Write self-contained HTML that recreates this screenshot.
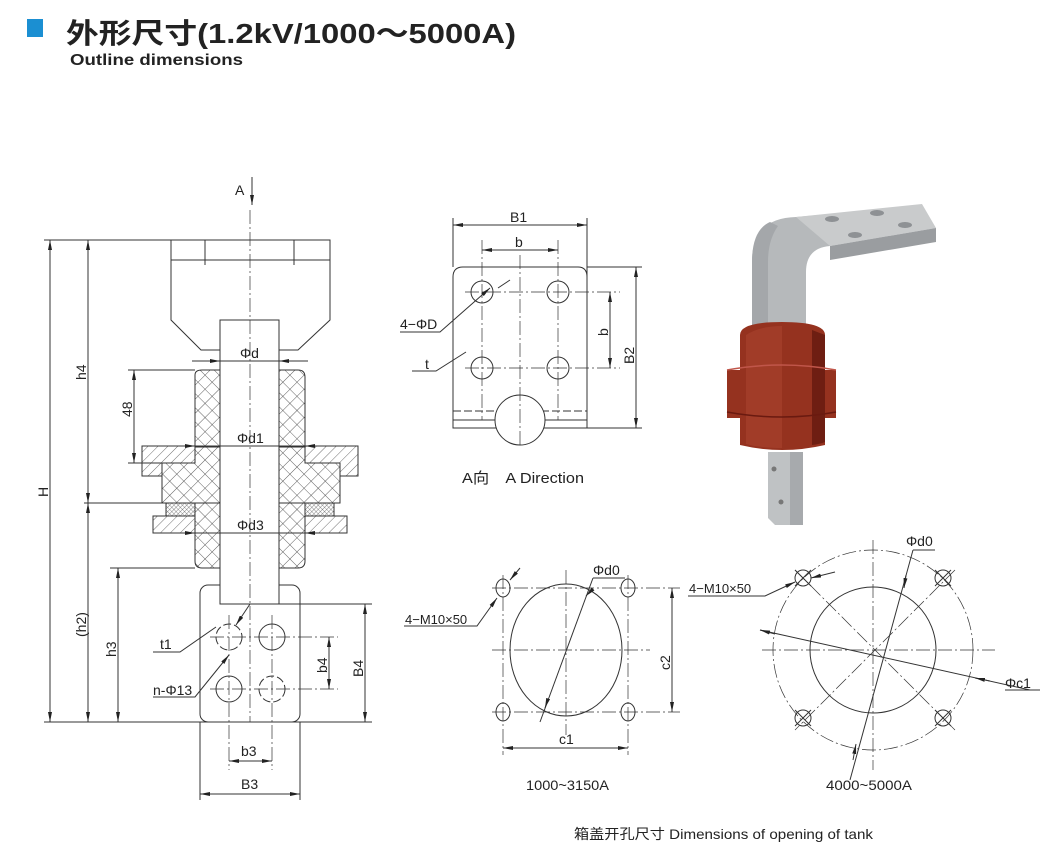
<!DOCTYPE html>
<html><head><meta charset="utf-8"><style>
html,body{margin:0;padding:0;background:#fff;}
svg{display:block;}
text{font-family:"Liberation Sans","Noto Sans CJK SC",sans-serif;fill:#222;}
</style></head><body>
<svg width="1056" height="864" viewBox="0 0 1056 864" xmlns="http://www.w3.org/2000/svg">
<defs>
<pattern id="cross" width="10" height="10" patternUnits="userSpaceOnUse" patternTransform="rotate(45)">
<rect width="10" height="10" fill="#fff"/>
<path d="M0 0H10M0 0V10" stroke="#333" stroke-width="0.8"/>
</pattern>
<pattern id="diag" width="7" height="7" patternUnits="userSpaceOnUse" patternTransform="rotate(45)">
<rect width="7" height="7" fill="#fff"/>
<path d="M0 0V7" stroke="#333" stroke-width="0.7"/>
</pattern>
<pattern id="fine" width="3" height="3" patternUnits="userSpaceOnUse" patternTransform="rotate(45)">
<rect width="3" height="3" fill="#fff"/>
<path d="M0 0H3M0 0V3" stroke="#333" stroke-width="0.6"/>
</pattern>
<marker id="ar" viewBox="0 0 10 4" refX="10" refY="2" markerWidth="10" markerHeight="4" orient="auto-start-reverse" markerUnits="userSpaceOnUse">
<path d="M0 0L10 2L0 4z" fill="#222"/>
</marker>
</defs>

<!-- Title -->
<rect x="27" y="19" width="16" height="18" fill="#1b8fd2"/>
<text x="66" y="43" font-size="28" font-weight="bold" textLength="450" lengthAdjust="spacingAndGlyphs">外形尺寸(1.2kV/1000～5000A)</text>
<text x="70" y="65" font-size="16" font-weight="bold" textLength="173" lengthAdjust="spacingAndGlyphs">Outline dimensions</text>

<g fill="none" stroke="#333" stroke-width="1">
<line x1="252" y1="177" x2="252" y2="205" marker-end="url(#ar)"/>
<path d="M171 240H330V320L298 350H201L171 320Z" fill="#fff"/>
<line x1="171" y1="260" x2="330" y2="260"/>
<line x1="205" y1="240" x2="205" y2="265"/>
<line x1="294" y1="240" x2="294" y2="265"/>
<path d="M195 375Q195 370 202 370H220V447H195Z" fill="url(#cross)"/>
<path d="M279 370H298Q305 370 305 377V447H279Z" fill="url(#cross)"/>
<path d="M142 446H195V463H162V476H142Z" fill="url(#diag)"/>
<path d="M305 446H358V476H338V463H305Z" fill="url(#diag)"/>
<path d="M162 463H195V447H220V503H162Z" fill="url(#cross)"/>
<path d="M279 447H305V463H340V503H279Z" fill="url(#cross)"/>
<rect x="166" y="503" width="29" height="13" fill="url(#fine)"/>
<rect x="305" y="503" width="29" height="13" fill="url(#fine)"/>
<rect x="153" y="516" width="42" height="17" fill="url(#diag)"/>
<rect x="305" y="516" width="42" height="17" fill="url(#diag)"/>
<path d="M195 503H220V568H202Q195 568 195 561Z" fill="url(#cross)"/>
<path d="M279 503H305V561Q305 568 298 568H279Z" fill="url(#cross)"/>
<rect x="200" y="585" width="100" height="137" rx="8" fill="#fff"/>
<rect x="220" y="320" width="59" height="284" fill="#fff"/>
<circle cx="229" cy="637" r="13" stroke-dasharray="8 3"/>
<circle cx="272" cy="637" r="13"/>
<circle cx="229" cy="689" r="13"/>
<circle cx="272" cy="689" r="13" stroke-dasharray="8 3"/>
<g stroke-width="0.7" stroke-dasharray="14 3 2 3">
<line x1="210" y1="637" x2="338" y2="637"/>
<line x1="210" y1="689" x2="338" y2="689"/>
<line x1="229" y1="615" x2="229" y2="770"/>
<line x1="272" y1="615" x2="272" y2="770"/>
<line x1="250" y1="210" x2="250" y2="722"/>
</g>
<line x1="44" y1="722" x2="372" y2="722"/>
<line x1="44" y1="240" x2="190" y2="240"/>
<line x1="84" y1="503" x2="162" y2="503"/>
<line x1="110" y1="568" x2="195" y2="568"/>
<line x1="128" y1="370" x2="195" y2="370"/>
<line x1="128" y1="463" x2="162" y2="463"/>
<line x1="279" y1="604" x2="372" y2="604"/>
<line x1="200" y1="722" x2="200" y2="800"/>
<line x1="300" y1="722" x2="300" y2="800"/>
<line x1="50" y1="240" x2="50" y2="722" marker-start="url(#ar)" marker-end="url(#ar)"/>
<line x1="88" y1="240" x2="88" y2="503" marker-start="url(#ar)" marker-end="url(#ar)"/>
<line x1="88" y1="503" x2="88" y2="722" marker-start="url(#ar)" marker-end="url(#ar)"/>
<line x1="118" y1="568" x2="118" y2="722" marker-start="url(#ar)" marker-end="url(#ar)"/>
<line x1="134" y1="370" x2="134" y2="463" marker-start="url(#ar)" marker-end="url(#ar)"/>
<line x1="365" y1="604" x2="365" y2="722" marker-start="url(#ar)" marker-end="url(#ar)"/>
<line x1="329" y1="637" x2="329" y2="689" marker-start="url(#ar)" marker-end="url(#ar)"/>
<line x1="229" y1="761" x2="272" y2="761" marker-start="url(#ar)" marker-end="url(#ar)"/>
<line x1="200" y1="794" x2="300" y2="794" marker-start="url(#ar)" marker-end="url(#ar)"/>
<line x1="192" y1="361" x2="220" y2="361" marker-end="url(#ar)"/>
<line x1="308" y1="361" x2="279" y2="361" marker-end="url(#ar)"/>
<line x1="220" y1="361" x2="279" y2="361"/>
<line x1="180" y1="446" x2="195" y2="446" marker-end="url(#ar)"/>
<line x1="320" y1="446" x2="305" y2="446" marker-end="url(#ar)"/>
<line x1="195" y1="446" x2="305" y2="446"/>
<line x1="180" y1="533" x2="195" y2="533" marker-end="url(#ar)"/>
<line x1="320" y1="533" x2="305" y2="533" marker-end="url(#ar)"/>
<line x1="195" y1="533" x2="305" y2="533"/>
<polyline points="153,652 180,652 216,627"/>
<polyline points="153,697 195,697 229,655" marker-end="url(#ar)"/>
<line x1="250" y1="604" x2="236" y2="625" marker-end="url(#ar)"/>

<path d="M453 428V277Q453 267 463 267H578Q587 267 587 277V428Z" fill="#fff"/>
<line x1="453" y1="411" x2="587" y2="411" stroke-dasharray="8 3"/>
<line x1="453" y1="420" x2="587" y2="420"/>
<circle cx="520" cy="420" r="25" fill="#fff"/>
<circle cx="482" cy="292" r="11"/><circle cx="558" cy="292" r="11"/>
<circle cx="482" cy="368" r="11"/><circle cx="558" cy="368" r="11"/>
<g stroke-width="0.7" stroke-dasharray="14 3 2 3">
<line x1="465" y1="292" x2="620" y2="292"/>
<line x1="465" y1="368" x2="620" y2="368"/>
<line x1="482" y1="240" x2="482" y2="420"/>
<line x1="558" y1="240" x2="558" y2="420"/>
<line x1="520" y1="255" x2="520" y2="445"/>
</g>
<line x1="453" y1="218" x2="453" y2="267"/>
<line x1="587" y1="218" x2="587" y2="428"/>
<line x1="587" y1="267" x2="642" y2="267"/>
<line x1="580" y1="428" x2="642" y2="428"/>
<line x1="453" y1="225" x2="587" y2="225" marker-start="url(#ar)" marker-end="url(#ar)"/>
<line x1="482" y1="250" x2="558" y2="250" marker-start="url(#ar)" marker-end="url(#ar)"/>
<line x1="610" y1="292" x2="610" y2="368" marker-start="url(#ar)" marker-end="url(#ar)"/>
<line x1="636" y1="267" x2="636" y2="428" marker-start="url(#ar)" marker-end="url(#ar)"/>
<polyline points="400,332 440,332 490,288" marker-end="url(#ar)"/>
<line x1="510" y1="280" x2="498" y2="288"/>
<polyline points="412,371 436,371 466,352"/>

<ellipse cx="566" cy="650" rx="56" ry="66"/>
<g stroke-width="0.7" stroke-dasharray="14 3 2 3">
<line x1="492" y1="588" x2="680" y2="588"/>
<line x1="492" y1="712" x2="680" y2="712"/>
<line x1="492" y1="650" x2="650" y2="650"/>
<line x1="503" y1="575" x2="503" y2="755"/>
<line x1="628" y1="575" x2="628" y2="755"/>
<line x1="566" y1="570" x2="566" y2="735"/>
</g>
<ellipse cx="503" cy="588" rx="7" ry="9"/><ellipse cx="628" cy="588" rx="7" ry="9"/>
<ellipse cx="503" cy="712" rx="7" ry="9"/><ellipse cx="628" cy="712" rx="7" ry="9"/>
<line x1="672" y1="588" x2="672" y2="712" marker-start="url(#ar)" marker-end="url(#ar)"/>
<line x1="503" y1="748" x2="628" y2="748" marker-start="url(#ar)" marker-end="url(#ar)"/>
<line x1="593" y1="578" x2="540" y2="722"/>
<line x1="587" y1="595" x2="586" y2="596" marker-end="url(#ar)"/>
<line x1="546" y1="705" x2="545" y2="708" marker-end="url(#ar)"/>
<line x1="593" y1="578" x2="625" y2="578"/>
<polyline points="404,626 477,626 497,598" marker-end="url(#ar)"/>
<line x1="520" y1="568" x2="510" y2="580" marker-end="url(#ar)"/>

<circle cx="873" cy="650" r="100" stroke-width="0.7" stroke-dasharray="14 3 2 3"/>
<circle cx="873" cy="650" r="63"/>
<g stroke-width="0.7" stroke-dasharray="14 3 2 3">
<line x1="762" y1="650" x2="995" y2="650"/>
<line x1="873" y1="540" x2="873" y2="770"/>
<line x1="795" y1="570" x2="955" y2="730"/>
<line x1="955" y1="570" x2="795" y2="730"/>
</g>
<circle cx="803" cy="578" r="8"/><circle cx="943" cy="578" r="8"/>
<circle cx="803" cy="718" r="8"/><circle cx="943" cy="718" r="8"/>
<line x1="795" y1="570" x2="811" y2="586"/><line x1="811" y1="570" x2="795" y2="586"/>
<line x1="935" y1="570" x2="951" y2="586"/><line x1="951" y1="570" x2="935" y2="586"/>
<line x1="795" y1="710" x2="811" y2="726"/><line x1="811" y1="710" x2="795" y2="726"/>
<line x1="935" y1="710" x2="951" y2="726"/><line x1="951" y1="710" x2="935" y2="726"/>
<line x1="913" y1="550" x2="850" y2="780"/>
<line x1="906" y1="575" x2="904" y2="588" marker-end="url(#ar)"/>
<line x1="853" y1="760" x2="856" y2="744" marker-end="url(#ar)"/>
<line x1="913" y1="550" x2="935" y2="550"/>
<line x1="760" y1="630" x2="1030" y2="690"/>
<line x1="760" y1="630" x2="775" y2="634" marker-start="url(#ar)"/>
<line x1="990" y1="681" x2="975" y2="678" marker-end="url(#ar)"/>
<line x1="1005" y1="690" x2="1040" y2="690"/>
<polyline points="688,596 765,596 795,582" marker-end="url(#ar)"/>
<line x1="835" y1="572" x2="811" y2="578" marker-end="url(#ar)"/>
</g>

<!-- ===== Photo ===== -->
<rect x="758" y="300" width="34" height="36" fill="#c4c6c8"/>
<path d="M752 330V262Q752 218 796 217L830 214V246Q806 248 806 272V330Z" fill="#b6b9bb"/>
<path d="M752 330V262Q752 230 770 222L778 226Q768 240 768 262V330Z" fill="#a4a7aa"/>
<path d="M796 217L922 204L936 228L830 246Z" fill="#c9cbcc"/>
<path d="M830 246L936 228V242L830 260Z" fill="#9a9da0"/>
<ellipse cx="832" cy="219" rx="7" ry="3" fill="#8e9194"/>
<ellipse cx="877" cy="213" rx="7" ry="3" fill="#8e9194"/>
<ellipse cx="855" cy="235" rx="7" ry="3" fill="#8e9194"/>
<ellipse cx="905" cy="225" rx="7" ry="3" fill="#8e9194"/>
<path d="M740 335Q740 322 782 322Q825 322 825 335V370H836V418H825V445Q782 455 740 445V418H727V370H740Z" fill="#95321f"/>
<path d="M746 335Q760 326 782 326V448Q760 448 746 444Z" fill="#a6402c" opacity="0.7"/>
<path d="M812 330V445Q820 444 825 442V335Z" fill="#6e1e12"/>
<path d="M727 370Q782 360 836 370" stroke="#c0564a" fill="none" stroke-width="1.5"/>
<path d="M727 412Q782 422 836 412" stroke="#6a1a10" fill="none" stroke-width="1.5"/>
<path d="M768 452H803V525H775L768 518Z" fill="#bfc2c4"/>
<path d="M790 452H803V525H790Z" fill="#a7aaad"/>
<circle cx="774" cy="469" r="2.5" fill="#777"/>
<circle cx="781" cy="502" r="2.5" fill="#777"/>

<g font-size="14">
<text x="235" y="195">A</text>
<text x="240" y="358">Φd</text>
<text x="237" y="443">Φd1</text>
<text x="237" y="530">Φd3</text>
<text x="160" y="649">t1</text>
<text x="153" y="695">n-Φ13</text>
<text x="241" y="756">b3</text>
<text x="241" y="789">B3</text>
<text transform="translate(48,497) rotate(-90)">H</text>
<text transform="translate(86,380) rotate(-90)">h4</text>
<text transform="translate(86,637) rotate(-90)">(h2)</text>
<text transform="translate(116,657) rotate(-90)">h3</text>
<text transform="translate(132,417) rotate(-90)">48</text>
<text transform="translate(327,673) rotate(-90)">b4</text>
<text transform="translate(363,677) rotate(-90)">B4</text>
<text x="510" y="222">B1</text>
<text x="515" y="247">b</text>
<text transform="translate(608,336) rotate(-90)">b</text>
<text transform="translate(634,364) rotate(-90)">B2</text>
<text x="400" y="329">4−ΦD</text>
<text x="425" y="369">t</text>
<text x="462" y="483" font-size="15" textLength="122" lengthAdjust="spacingAndGlyphs">A向　A Direction</text>
<text x="593" y="575">Φd0</text>
<text x="405" y="624" font-size="13">4−M10×50</text>
<text transform="translate(670,670) rotate(-90)">c2</text>
<text x="559" y="744">c1</text>
<text x="526" y="790" textLength="83" lengthAdjust="spacingAndGlyphs">1000~3150A</text>
<text x="906" y="546">Φd0</text>
<text x="689" y="593" font-size="13">4−M10×50</text>
<text x="1005" y="688">Φc1</text>
<text x="826" y="790" textLength="86" lengthAdjust="spacingAndGlyphs">4000~5000A</text>
<text x="574" y="839" textLength="299" lengthAdjust="spacingAndGlyphs">箱盖开孔尺寸 Dimensions of opening of tank</text>
</g>
</svg>
</body></html>
